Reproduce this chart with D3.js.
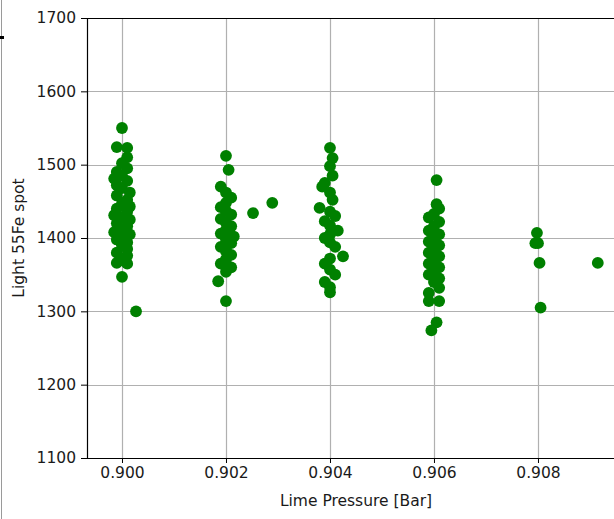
<!DOCTYPE html>
<html>
<head>
<meta charset="utf-8">
<script src="https://cdn.jsdelivr.net/npm/d3@7"></script>
<style>
  html, body { margin: 0; padding: 0; background: #fff; }
  svg { display: block; }
  text { font-family: "DejaVu Sans", sans-serif; fill: #1a1a1a; }
</style>
</head>
<body>
<svg id="chart" width="614" height="519"></svg>
<script>
// Lime pressure readings [Bar] and the matching light yield at the 55Fe spot
const pressure = [
  // ~0.900 Bar
  0.9000, 0.8999, 0.9001, 0.9001, 0.9000, 0.9001, 0.8999, 0.9000, 0.89985, 0.9001,
  0.8999, 0.9000, 0.90015, 0.8999, 0.9001, 0.9000, 0.90015, 0.8999, 0.9001, 0.89985,
  0.9000, 0.90015, 0.8999, 0.9001, 0.9000, 0.89985, 0.90015, 0.9000, 0.8999, 0.9001,
  0.9000, 0.9001, 0.8999, 0.9001, 0.9000, 0.8999, 0.9001, 0.9000, 0.90027,
  // ~0.902 Bar
  0.9020, 0.90205, 0.9019, 0.9020, 0.9021, 0.9020, 0.9019, 0.9020, 0.9021, 0.9019,
  0.9020, 0.9021, 0.9020, 0.9019, 0.90215, 0.9020, 0.9021, 0.9019, 0.9020, 0.9021,
  0.9020, 0.9019, 0.9021, 0.9020, 0.90185, 0.9020, 0.90252, 0.90289,
  // ~0.904 Bar
  0.9040, 0.90405, 0.9040, 0.90405, 0.9039, 0.90385, 0.9040, 0.90405, 0.9038, 0.9040,
  0.9041, 0.9039, 0.9040, 0.90415, 0.9040, 0.9039, 0.9040, 0.9041, 0.90425, 0.9040,
  0.9039, 0.9040, 0.9041, 0.9039, 0.9040, 0.9040,
  // ~0.906 Bar
  0.90605, 0.90605, 0.9061, 0.9060, 0.9059, 0.9061, 0.9060, 0.9059, 0.9061, 0.9060,
  0.9059, 0.9061, 0.9060, 0.9059, 0.9061, 0.9060, 0.9059, 0.9061, 0.9060, 0.9059,
  0.9061, 0.9060, 0.9061, 0.9059, 0.9059, 0.9061, 0.90605, 0.90595,
  // ~0.908 Bar and above
  0.90798, 0.90795, 0.9080, 0.90803, 0.90915, 0.90805
];
const light = [
  1550, 1524, 1523, 1510, 1502, 1495, 1490, 1485, 1481, 1478,
  1472, 1468, 1462, 1458, 1452, 1447, 1443, 1440, 1436, 1431,
  1428, 1425, 1420, 1416, 1412, 1408, 1405, 1402, 1398, 1394,
  1390, 1385, 1380, 1376, 1370, 1366, 1365, 1347, 1300,
  1512, 1493, 1470, 1462, 1455, 1448, 1442, 1437, 1432, 1426,
  1421, 1416, 1411, 1406, 1402, 1398, 1393, 1388, 1382, 1377,
  1371, 1365, 1360, 1354, 1341, 1314, 1434, 1448,
  1523, 1509, 1498, 1485, 1475, 1470, 1462, 1452, 1441, 1436,
  1430, 1423, 1417, 1410, 1405, 1400, 1394, 1388, 1375, 1372,
  1365, 1357, 1350, 1340, 1333, 1326,
  1479, 1446, 1440, 1433, 1428, 1422, 1416, 1410, 1405, 1400,
  1395, 1390, 1385, 1380, 1375, 1370, 1365, 1360, 1355, 1350,
  1345, 1340, 1332, 1325, 1314, 1314, 1285, 1274,
  1407, 1393, 1393, 1366, 1366, 1305
];
const xTicks = [0.900, 0.902, 0.904, 0.906, 0.908];
const yTicks = [1100, 1200, 1300, 1400, 1500, 1600, 1700];
const xLabel = "Lime Pressure [Bar]";
const yLabel = "Light 55Fe spot";

const svg = d3.select("#chart");
const mLeft = 87, mTop = 18, mBottom = 458, mRight = 640;
const fontSize = 15.5;

const x = d3.scaleLinear().domain([0.899327, 0.909962]).range([mLeft, mRight]);
const y = d3.scaleLinear().domain([1100, 1700]).range([mBottom, mTop]);

// strip at the far left edge
svg.append("line").attr("x1", 1.5).attr("x2", 1.5).attr("y1", 0).attr("y2", 519)
  .attr("stroke", "#9a9a9a").attr("stroke-width", 1);
svg.append("rect").attr("x", 0).attr("y", 36).attr("width", 4).attr("height", 3).attr("fill", "#000");

svg.append("clipPath").attr("id", "plot")
  .append("rect").attr("x", mLeft).attr("y", mTop).attr("width", mRight - mLeft).attr("height", mBottom - mTop);

// grid
const grid = svg.append("g").attr("clip-path", "url(#plot)");
grid.selectAll(".gx").data(xTicks).join("line")
  .attr("x1", d => Math.round(x(d)) + 0.5).attr("x2", d => Math.round(x(d)) + 0.5)
  .attr("y1", mTop).attr("y2", mBottom)
  .attr("stroke", "#b0b0b0").attr("stroke-width", 1.2);
grid.selectAll(".gy").data(yTicks).join("line")
  .attr("x1", mLeft).attr("x2", mRight)
  .attr("y1", d => Math.round(y(d)) + 0.5).attr("y2", d => Math.round(y(d)) + 0.5)
  .attr("stroke", "#b0b0b0").attr("stroke-width", 1.2);

// points
const pts = pressure.map((p, i) => ({ p, v: light[i] }));
svg.append("g").attr("clip-path", "url(#plot)")
  .selectAll("circle").data(pts).join("circle")
  .attr("cx", d => x(d.p)).attr("cy", d => y(d.v))
  .attr("r", 5.9).attr("fill", "#008000");

// axes
const xAxis = d3.axisBottom(x).tickValues(xTicks).tickFormat(d3.format(".3f"))
  .tickSize(5).tickPadding(4);
const yAxis = d3.axisLeft(y).tickValues(yTicks).tickFormat(d3.format("d"))
  .tickSize(6).tickPadding(5);

const gx = svg.append("g").attr("transform", `translate(0,${mBottom})`).call(xAxis);
const gy = svg.append("g").attr("transform", `translate(${mLeft},0)`).call(yAxis);
[gx, gy].forEach(g => {
  g.select(".domain").remove();
  g.selectAll("line").attr("stroke", "#000");
  g.selectAll("text").attr("font-size", fontSize).attr("fill", "#1a1a1a")
    .attr("font-family", "DejaVu Sans, sans-serif");
});

// spines
svg.append("line").attr("x1", mLeft).attr("x2", mRight).attr("y1", mTop + 0.5).attr("y2", mTop + 0.5)
  .attr("stroke", "#000").attr("stroke-width", 1.2);
svg.append("line").attr("x1", mLeft).attr("x2", mRight).attr("y1", mBottom + 0.5).attr("y2", mBottom + 0.5)
  .attr("stroke", "#000").attr("stroke-width", 1.2);
svg.append("line").attr("x1", mLeft + 0.5).attr("x2", mLeft + 0.5).attr("y1", mTop).attr("y2", mBottom)
  .attr("stroke", "#000").attr("stroke-width", 1.2);

// axis titles
svg.append("text").attr("x", 356).attr("y", 506)
  .attr("text-anchor", "middle").attr("font-size", fontSize).text(xLabel);
svg.append("text")
  .attr("transform", `translate(24,${238}) rotate(-90)`)
  .attr("text-anchor", "middle").attr("font-size", fontSize).text(yLabel);
</script>
</body>
</html>
